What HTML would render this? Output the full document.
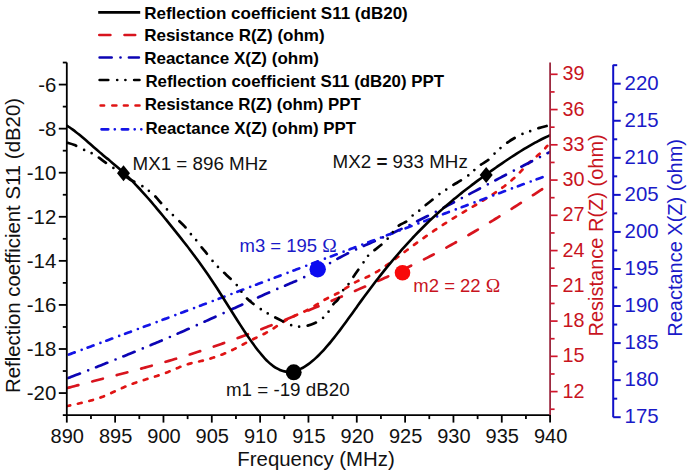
<!DOCTYPE html>
<html><head><meta charset="utf-8"><title>chart</title>
<style>html,body{margin:0;padding:0;background:#fff;}svg{display:block;}text{font-family:"Liberation Sans",sans-serif;}</style></head><body>
<svg width="694" height="476" viewBox="0 0 694 476">
<rect width="694" height="476" fill="#fff"/>
<path d="M98.20,12.40 H140.20" stroke="#000" stroke-width="2.7" stroke-linecap="butt" fill="none"/>
<text x="144.2" y="18.6" font-size="17" font-weight="bold" fill="#000">Reflection coefficient S11 (dB20)</text>
<path d="M99.35,35.00 H110.35 M124.55,35.00 H135.15" stroke="#d8141e" stroke-width="2.7" stroke-linecap="round" fill="none"/>
<text x="144.2" y="40.9" font-size="17" font-weight="bold" fill="#000">Resistance R(Z) (ohm)</text>
<path d="M99.65,57.50 H111.65 M120.50,57.50 h0.01 M128.95,57.50 H138.85" stroke="#0c04b4" stroke-width="2.7" stroke-linecap="round" fill="none"/>
<text x="144.2" y="63.6" font-size="17" font-weight="bold" fill="#000">Reactance X(Z) (ohm)</text>
<path d="M99.65,80.00 H108.25 M117.20,80.00 h0.01 M125.40,80.00 h0.01 M134.15,80.00 H139.45" stroke="#000" stroke-width="2.7" stroke-linecap="round" fill="none"/>
<text x="145.4" y="87.4" font-size="16.85" font-weight="bold" fill="#000">Reflection coefficient S11 (dB20) PPT</text>
<path d="M100.65,105.50 H104.05 M112.35,105.50 H116.35 M123.95,105.50 H127.65 M135.55,105.50 H139.45" stroke="#e01414" stroke-width="2.7" stroke-linecap="round" fill="none"/>
<text x="144.7" y="110.3" font-size="16.85" font-weight="bold" fill="#000">Resistance R(Z) (ohm) PPT</text>
<path d="M101.55,129.30 H108.25 M114.80,129.30 h0.01 M121.85,129.30 H128.15 M134.70,129.30 h0.01 M141.30,129.30 h0.01" stroke="#1414e6" stroke-width="2.7" stroke-linecap="round" fill="none"/>
<text x="145.4" y="134.2" font-size="16.85" font-weight="bold" fill="#000">Reactance X(Z) (ohm) PPT</text>
<defs><clipPath id="pc"><rect x="66.5" y="0" width="483.9" height="415.1"/></clipPath></defs>
<g clip-path="url(#pc)">
<path d="M66.80,388.18 C67.30,388.04 68.80,387.64 69.80,387.37 C70.80,387.10 71.80,386.84 72.80,386.57 C73.80,386.30 74.80,386.04 75.81,385.77 C76.81,385.51 77.81,385.24 78.81,384.98 C79.81,384.71 80.81,384.45 81.81,384.19 C82.81,383.92 83.81,383.66 84.81,383.40 C85.81,383.14 86.81,382.87 87.81,382.61 C88.81,382.35 89.81,382.09 90.81,381.83 C91.82,381.57 92.82,381.31 93.82,381.05 C94.82,380.79 95.82,380.53 96.82,380.27 C97.82,380.01 98.82,379.75 99.82,379.49 C100.82,379.23 101.82,378.97 102.82,378.71 C103.82,378.45 104.82,378.19 105.82,377.93 C106.82,377.67 107.83,377.41 108.83,377.15 C109.83,376.89 110.83,376.63 111.83,376.37 C112.83,376.11 113.83,375.84 114.83,375.58 C115.83,375.32 116.83,375.06 117.83,374.80 C118.83,374.54 119.83,374.28 120.83,374.01 C121.83,373.75 122.83,373.49 123.84,373.23 C124.84,372.96 125.84,372.70 126.84,372.44 C127.84,372.17 128.84,371.91 129.84,371.64 C130.84,371.38 131.84,371.11 132.84,370.84 C133.84,370.58 134.84,370.31 135.84,370.04 C136.84,369.77 137.84,369.50 138.84,369.23 C139.85,368.97 140.85,368.69 141.85,368.42 C142.85,368.15 143.85,367.88 144.85,367.61 C145.85,367.33 146.85,367.06 147.85,366.79 C148.85,366.51 149.85,366.23 150.85,365.96 C151.85,365.68 152.85,365.40 153.85,365.12 C154.85,364.84 155.86,364.56 156.86,364.28 C157.86,364.00 158.86,363.72 159.86,363.43 C160.86,363.15 161.86,362.86 162.86,362.58 C163.86,362.29 164.86,362.00 165.86,361.71 C166.86,361.42 167.86,361.13 168.86,360.84 C169.86,360.55 170.86,360.25 171.87,359.96 C172.87,359.66 173.87,359.36 174.87,359.07 C175.87,358.77 176.87,358.47 177.87,358.17 C178.87,357.86 179.87,357.56 180.87,357.25 C181.87,356.95 182.87,356.64 183.87,356.33 C184.87,356.02 185.87,355.71 186.87,355.40 C187.88,355.09 188.88,354.77 189.88,354.46 C190.88,354.14 191.88,353.82 192.88,353.50 C193.88,353.18 194.88,352.86 195.88,352.54 C196.88,352.21 197.88,351.89 198.88,351.56 C199.88,351.23 200.88,350.90 201.88,350.57 C202.88,350.24 203.89,349.91 204.89,349.57 C205.89,349.24 206.89,348.90 207.89,348.57 C208.89,348.23 209.89,347.89 210.89,347.55 C211.89,347.21 212.89,346.86 213.89,346.52 C214.89,346.17 215.89,345.83 216.89,345.48 C217.89,345.13 218.89,344.78 219.90,344.43 C220.90,344.08 221.90,343.73 222.90,343.38 C223.90,343.02 224.90,342.67 225.90,342.31 C226.90,341.96 227.90,341.60 228.90,341.24 C229.90,340.88 230.90,340.52 231.90,340.15 C232.90,339.79 233.90,339.43 234.90,339.06 C235.90,338.70 236.91,338.33 237.91,337.97 C238.91,337.60 239.91,337.23 240.91,336.86 C241.91,336.49 242.91,336.12 243.91,335.74 C244.91,335.37 245.91,335.00 246.91,334.62 C247.91,334.25 248.91,333.87 249.91,333.49 C250.91,333.12 251.91,332.74 252.92,332.36 C253.92,331.98 254.92,331.60 255.92,331.22 C256.92,330.84 257.92,330.45 258.92,330.07 C259.92,329.68 260.92,329.30 261.92,328.91 C262.92,328.53 263.92,328.14 264.92,327.75 C265.92,327.36 266.92,326.98 267.92,326.59 C268.93,326.20 269.93,325.81 270.93,325.41 C271.93,325.02 272.93,324.63 273.93,324.24 C274.93,323.84 275.93,323.45 276.93,323.05 C277.93,322.66 278.93,322.26 279.93,321.87 C280.93,321.47 281.93,321.07 282.93,320.68 C283.93,320.28 284.94,319.88 285.94,319.48 C286.94,319.08 287.94,318.68 288.94,318.28 C289.94,317.88 290.94,317.48 291.94,317.07 C292.94,316.67 293.94,316.27 294.94,315.87 C295.94,315.46 296.94,315.06 297.94,314.65 C298.94,314.25 299.94,313.84 300.95,313.44 C301.95,313.03 302.95,312.62 303.95,312.22 C304.95,311.81 305.95,311.40 306.95,310.99 C307.95,310.58 308.95,310.17 309.95,309.76 C310.95,309.35 311.95,308.94 312.95,308.53 C313.95,308.12 314.95,307.71 315.95,307.29 C316.96,306.88 317.96,306.47 318.96,306.05 C319.96,305.64 320.96,305.22 321.96,304.81 C322.96,304.39 323.96,303.98 324.96,303.56 C325.96,303.14 326.96,302.73 327.96,302.31 C328.96,301.89 329.96,301.47 330.96,301.06 C331.96,300.64 332.97,300.22 333.97,299.80 C334.97,299.38 335.97,298.96 336.97,298.54 C337.97,298.12 338.97,297.69 339.97,297.27 C340.97,296.85 341.97,296.43 342.97,296.00 C343.97,295.58 344.97,295.16 345.97,294.73 C346.97,294.31 347.97,293.88 348.98,293.46 C349.98,293.03 350.98,292.61 351.98,292.18 C352.98,291.75 353.98,291.33 354.98,290.90 C355.98,290.47 356.98,290.05 357.98,289.62 C358.98,289.19 359.98,288.76 360.98,288.33 C361.98,287.90 362.98,287.47 363.98,287.04 C364.99,286.61 365.99,286.17 366.99,285.74 C367.99,285.31 368.99,284.87 369.99,284.44 C370.99,284.00 371.99,283.57 372.99,283.13 C373.99,282.69 374.99,282.26 375.99,281.82 C376.99,281.38 377.99,280.94 378.99,280.49 C379.99,280.05 381.00,279.61 382.00,279.16 C383.00,278.72 384.00,278.27 385.00,277.83 C386.00,277.38 387.00,276.93 388.00,276.48 C389.00,276.03 390.00,275.57 391.00,275.12 C392.00,274.67 393.00,274.21 394.00,273.75 C395.00,273.29 396.00,272.83 397.00,272.37 C398.01,271.91 399.01,271.45 400.01,270.98 C401.01,270.52 402.01,270.05 403.01,269.58 C404.01,269.11 405.01,268.64 406.01,268.16 C407.01,267.69 408.01,267.21 409.01,266.73 C410.01,266.26 411.01,265.77 412.01,265.29 C413.01,264.81 414.02,264.32 415.02,263.83 C416.02,263.34 417.02,262.85 418.02,262.36 C419.02,261.87 420.02,261.37 421.02,260.87 C422.02,260.37 423.02,259.87 424.02,259.36 C425.02,258.86 426.02,258.35 427.02,257.84 C428.02,257.33 429.02,256.82 430.03,256.30 C431.03,255.78 432.03,255.26 433.03,254.74 C434.03,254.22 435.03,253.69 436.03,253.16 C437.03,252.63 438.03,252.10 439.03,251.57 C440.03,251.03 441.03,250.50 442.03,249.96 C443.03,249.42 444.03,248.87 445.03,248.33 C446.04,247.78 447.04,247.23 448.04,246.68 C449.04,246.13 450.04,245.58 451.04,245.02 C452.04,244.47 453.04,243.91 454.04,243.35 C455.04,242.79 456.04,242.22 457.04,241.66 C458.04,241.09 459.04,240.52 460.04,239.95 C461.04,239.38 462.05,238.81 463.05,238.23 C464.05,237.65 465.05,237.08 466.05,236.50 C467.05,235.92 468.05,235.33 469.05,234.75 C470.05,234.17 471.05,233.58 472.05,232.99 C473.05,232.40 474.05,231.81 475.05,231.22 C476.05,230.63 477.05,230.03 478.06,229.43 C479.06,228.84 480.06,228.24 481.06,227.64 C482.06,227.04 483.06,226.43 484.06,225.83 C485.06,225.23 486.06,224.62 487.06,224.01 C488.06,223.41 489.06,222.80 490.06,222.18 C491.06,221.57 492.06,220.96 493.06,220.35 C494.07,219.73 495.07,219.12 496.07,218.50 C497.07,217.88 498.07,217.26 499.07,216.64 C500.07,216.02 501.07,215.40 502.07,214.78 C503.07,214.15 504.07,213.53 505.07,212.90 C506.07,212.28 507.07,211.65 508.07,211.02 C509.07,210.39 510.08,209.76 511.08,209.13 C512.08,208.50 513.08,207.87 514.08,207.24 C515.08,206.60 516.08,205.97 517.08,205.34 C518.08,204.70 519.08,204.06 520.08,203.43 C521.08,202.79 522.08,202.15 523.08,201.51 C524.08,200.87 525.08,200.23 526.09,199.59 C527.09,198.95 528.09,198.31 529.09,197.67 C530.09,197.03 531.09,196.38 532.09,195.74 C533.09,195.10 534.09,194.45 535.09,193.81 C536.09,193.16 537.09,192.52 538.09,191.87 C539.09,191.23 540.09,190.58 541.09,189.93 C542.10,189.29 543.10,188.64 544.10,187.99 C545.10,187.34 546.10,186.70 547.10,186.05 C548.10,185.40 549.60,184.43 550.10,184.10" fill="none" stroke="#d8141e" stroke-width="2.7" stroke-linecap="round" stroke-dasharray="10.93 14.37" stroke-dashoffset="24.27"/>
<path d="M66.80,406.23 C67.13,406.16 68.13,405.92 68.80,405.76 C69.47,405.60 70.14,405.45 70.80,405.30 C71.47,405.14 72.14,404.99 72.81,404.84 C73.47,404.69 74.14,404.54 74.81,404.39 C75.48,404.24 76.14,404.09 76.81,403.94 C77.48,403.80 78.15,403.65 78.81,403.49 C79.48,403.34 80.15,403.19 80.81,403.04 C81.48,402.88 82.15,402.73 82.82,402.57 C83.48,402.42 84.15,402.26 84.82,402.09 C85.49,401.93 86.15,401.77 86.82,401.60 C87.49,401.43 88.16,401.26 88.82,401.09 C89.49,400.91 90.16,400.73 90.82,400.55 C91.49,400.36 92.16,400.18 92.83,399.98 C93.49,399.79 94.16,399.59 94.83,399.39 C95.50,399.19 96.16,398.98 96.83,398.76 C97.50,398.55 98.17,398.32 98.83,398.10 C99.50,397.87 100.17,397.63 100.84,397.39 C101.50,397.15 102.17,396.90 102.84,396.64 C103.50,396.38 104.17,396.11 104.84,395.84 C105.51,395.57 106.17,395.28 106.84,395.00 C107.51,394.71 108.18,394.42 108.84,394.12 C109.51,393.83 110.18,393.53 110.85,393.22 C111.51,392.92 112.18,392.61 112.85,392.30 C113.52,391.99 114.18,391.68 114.85,391.37 C115.52,391.06 116.18,390.75 116.85,390.44 C117.52,390.13 118.19,389.81 118.85,389.51 C119.52,389.20 120.19,388.89 120.86,388.59 C121.52,388.28 122.19,387.98 122.86,387.69 C123.53,387.39 124.19,387.10 124.86,386.82 C125.53,386.53 126.20,386.25 126.86,385.98 C127.53,385.70 128.20,385.43 128.86,385.17 C129.53,384.91 130.20,384.65 130.87,384.39 C131.53,384.14 132.20,383.89 132.87,383.65 C133.54,383.40 134.20,383.16 134.87,382.93 C135.54,382.69 136.21,382.46 136.87,382.24 C137.54,382.01 138.21,381.79 138.88,381.57 C139.54,381.35 140.21,381.13 140.88,380.92 C141.54,380.71 142.21,380.50 142.88,380.29 C143.55,380.08 144.21,379.87 144.88,379.67 C145.55,379.46 146.22,379.26 146.88,379.05 C147.55,378.85 148.22,378.64 148.89,378.44 C149.55,378.24 150.22,378.03 150.89,377.83 C151.55,377.62 152.22,377.42 152.89,377.21 C153.56,377.00 154.22,376.80 154.89,376.59 C155.56,376.37 156.23,376.16 156.89,375.95 C157.56,375.73 158.23,375.51 158.90,375.29 C159.56,375.07 160.23,374.84 160.90,374.61 C161.57,374.38 162.23,374.15 162.90,373.91 C163.57,373.67 164.23,373.43 164.90,373.18 C165.57,372.93 166.24,372.68 166.90,372.42 C167.57,372.16 168.24,371.89 168.91,371.62 C169.57,371.35 170.24,371.07 170.91,370.79 C171.58,370.50 172.24,370.22 172.91,369.93 C173.58,369.65 174.25,369.36 174.91,369.07 C175.58,368.79 176.25,368.50 176.91,368.22 C177.58,367.93 178.25,367.65 178.92,367.38 C179.58,367.10 180.25,366.83 180.92,366.57 C181.59,366.30 182.25,366.04 182.92,365.80 C183.59,365.55 184.26,365.31 184.92,365.08 C185.59,364.85 186.26,364.63 186.93,364.43 C187.59,364.22 188.26,364.03 188.93,363.85 C189.59,363.66 190.26,363.49 190.93,363.33 C191.60,363.16 192.26,363.00 192.93,362.85 C193.60,362.69 194.27,362.54 194.93,362.40 C195.60,362.25 196.27,362.10 196.94,361.96 C197.60,361.81 198.27,361.66 198.94,361.51 C199.60,361.36 200.27,361.21 200.94,361.05 C201.61,360.89 202.27,360.73 202.94,360.56 C203.61,360.40 204.28,360.23 204.94,360.05 C205.61,359.87 206.28,359.69 206.95,359.51 C207.61,359.33 208.28,359.14 208.95,358.94 C209.62,358.75 210.28,358.55 210.95,358.35 C211.62,358.15 212.28,357.94 212.95,357.72 C213.62,357.51 214.29,357.29 214.95,357.07 C215.62,356.85 216.29,356.62 216.96,356.38 C217.62,356.15 218.29,355.91 218.96,355.67 C219.63,355.42 220.29,355.17 220.96,354.92 C221.63,354.66 222.30,354.40 222.96,354.13 C223.63,353.87 224.30,353.60 224.96,353.32 C225.63,353.04 226.30,352.75 226.97,352.46 C227.63,352.17 228.30,351.88 228.97,351.58 C229.64,351.27 230.30,350.96 230.97,350.65 C231.64,350.33 232.31,350.01 232.97,349.68 C233.64,349.36 234.31,349.02 234.97,348.69 C235.64,348.35 236.31,348.01 236.98,347.66 C237.64,347.32 238.31,346.97 238.98,346.61 C239.65,346.26 240.31,345.91 240.98,345.56 C241.65,345.20 242.32,344.84 242.98,344.49 C243.65,344.13 244.32,343.78 244.99,343.42 C245.65,343.07 246.32,342.72 246.99,342.36 C247.65,342.01 248.32,341.66 248.99,341.32 C249.66,340.98 250.32,340.63 250.99,340.30 C251.66,339.96 252.33,339.63 252.99,339.30 C253.66,338.98 254.33,338.66 255.00,338.34 C255.66,338.02 256.33,337.70 257.00,337.39 C257.67,337.07 258.33,336.76 259.00,336.44 C259.67,336.12 260.33,335.80 261.00,335.48 C261.67,335.15 262.34,334.82 263.00,334.48 C263.67,334.14 264.34,333.80 265.01,333.44 C265.67,333.08 266.34,332.72 267.01,332.34 C267.68,331.96 268.34,331.56 269.01,331.16 C269.68,330.76 270.35,330.35 271.01,329.93 C271.68,329.51 272.35,329.08 273.01,328.65 C273.68,328.22 274.35,327.79 275.02,327.35 C275.68,326.91 276.35,326.47 277.02,326.02 C277.69,325.58 278.35,325.14 279.02,324.70 C279.69,324.26 280.36,323.82 281.02,323.39 C281.69,322.95 282.36,322.52 283.02,322.10 C283.69,321.67 284.36,321.25 285.03,320.85 C285.69,320.44 286.36,320.04 287.03,319.65 C287.70,319.26 288.36,318.88 289.03,318.52 C289.70,318.16 290.37,317.81 291.03,317.47 C291.70,317.13 292.37,316.81 293.04,316.49 C293.70,316.18 294.37,315.88 295.04,315.58 C295.70,315.28 296.37,314.99 297.04,314.70 C297.71,314.41 298.37,314.13 299.04,313.84 C299.71,313.55 300.38,313.27 301.04,312.98 C301.71,312.68 302.38,312.39 303.05,312.09 C303.71,311.79 304.38,311.49 305.05,311.17 C305.72,310.85 306.38,310.52 307.05,310.18 C307.72,309.84 308.38,309.49 309.05,309.12 C309.72,308.75 310.39,308.37 311.05,307.98 C311.72,307.59 312.39,307.19 313.06,306.78 C313.72,306.38 314.39,305.96 315.06,305.55 C315.73,305.14 316.39,304.72 317.06,304.30 C317.73,303.88 318.40,303.46 319.06,303.05 C319.73,302.64 320.40,302.23 321.06,301.83 C321.73,301.42 322.40,301.03 323.07,300.64 C323.73,300.26 324.40,299.88 325.07,299.52 C325.74,299.16 326.40,298.81 327.07,298.47 C327.74,298.13 328.41,297.80 329.07,297.48 C329.74,297.15 330.41,296.83 331.07,296.51 C331.74,296.18 332.41,295.87 333.08,295.54 C333.74,295.22 334.41,294.89 335.08,294.56 C335.75,294.23 336.41,293.89 337.08,293.54 C337.75,293.18 338.42,292.83 339.08,292.45 C339.75,292.07 340.42,291.68 341.09,291.28 C341.75,290.87 342.42,290.45 343.09,290.02 C343.75,289.59 344.42,289.15 345.09,288.71 C345.76,288.27 346.42,287.83 347.09,287.38 C347.76,286.94 348.43,286.49 349.09,286.06 C349.76,285.62 350.43,285.19 351.10,284.77 C351.76,284.35 352.43,283.94 353.10,283.54 C353.77,283.15 354.43,282.77 355.10,282.41 C355.77,282.05 356.43,281.72 357.10,281.39 C357.77,281.06 358.44,280.76 359.10,280.46 C359.77,280.16 360.44,279.87 361.11,279.58 C361.77,279.30 362.44,279.02 363.11,278.74 C363.78,278.45 364.44,278.17 365.11,277.88 C365.78,277.59 366.45,277.30 367.11,276.99 C367.78,276.68 368.45,276.37 369.11,276.03 C369.78,275.70 370.45,275.36 371.12,275.01 C371.78,274.65 372.45,274.29 373.12,273.91 C373.79,273.54 374.45,273.15 375.12,272.76 C375.79,272.37 376.46,271.96 377.12,271.55 C377.79,271.14 378.46,270.72 379.12,270.30 C379.79,269.87 380.46,269.44 381.13,269.00 C381.79,268.56 382.46,268.11 383.13,267.66 C383.80,267.21 384.46,266.75 385.13,266.28 C385.80,265.82 386.47,265.35 387.13,264.88 C387.80,264.41 388.47,263.93 389.14,263.45 C389.80,262.96 390.47,262.48 391.14,261.99 C391.80,261.50 392.47,261.01 393.14,260.51 C393.81,260.02 394.47,259.52 395.14,259.02 C395.81,258.52 396.48,258.02 397.14,257.52 C397.81,257.01 398.48,256.51 399.15,256.00 C399.81,255.50 400.48,254.99 401.15,254.49 C401.82,253.98 402.48,253.48 403.15,252.97 C403.82,252.47 404.48,251.97 405.15,251.46 C405.82,250.96 406.49,250.46 407.15,249.96 C407.82,249.46 408.49,248.96 409.16,248.47 C409.82,247.97 410.49,247.48 411.16,246.98 C411.83,246.49 412.49,246.00 413.16,245.51 C413.83,245.02 414.50,244.53 415.16,244.04 C415.83,243.56 416.50,243.07 417.16,242.59 C417.83,242.11 418.50,241.62 419.17,241.14 C419.83,240.66 420.50,240.19 421.17,239.71 C421.84,239.23 422.50,238.76 423.17,238.29 C423.84,237.81 424.51,237.34 425.17,236.87 C425.84,236.40 426.51,235.94 427.18,235.47 C427.84,235.00 428.51,234.54 429.18,234.08 C429.84,233.62 430.51,233.16 431.18,232.70 C431.85,232.24 432.51,231.78 433.18,231.33 C433.85,230.88 434.52,230.42 435.18,229.97 C435.85,229.52 436.52,229.08 437.19,228.63 C437.85,228.18 438.52,227.74 439.19,227.30 C439.85,226.86 440.52,226.42 441.19,225.98 C441.86,225.54 442.52,225.11 443.19,224.67 C443.86,224.24 444.53,223.81 445.19,223.38 C445.86,222.95 446.53,222.52 447.20,222.10 C447.86,221.67 448.53,221.25 449.20,220.83 C449.87,220.41 450.53,219.99 451.20,219.58 C451.87,219.16 452.53,218.75 453.20,218.34 C453.87,217.93 454.54,217.52 455.20,217.11 C455.87,216.71 456.54,216.30 457.21,215.90 C457.87,215.50 458.54,215.10 459.21,214.70 C459.88,214.30 460.54,213.91 461.21,213.51 C461.88,213.12 462.55,212.72 463.21,212.33 C463.88,211.94 464.55,211.55 465.21,211.15 C465.88,210.76 466.55,210.37 467.22,209.98 C467.88,209.59 468.55,209.20 469.22,208.81 C469.89,208.42 470.55,208.03 471.22,207.63 C471.89,207.24 472.56,206.85 473.22,206.46 C473.89,206.07 474.56,205.67 475.22,205.28 C475.89,204.88 476.56,204.49 477.23,204.09 C477.89,203.69 478.56,203.29 479.23,202.89 C479.90,202.49 480.56,202.09 481.23,201.68 C481.90,201.27 482.57,200.87 483.23,200.46 C483.90,200.05 484.57,199.63 485.24,199.22 C485.90,198.80 486.57,198.38 487.24,197.96 C487.90,197.54 488.57,197.11 489.24,196.68 C489.91,196.25 490.57,195.82 491.24,195.38 C491.91,194.94 492.58,194.50 493.24,194.06 C493.91,193.61 494.58,193.16 495.25,192.71 C495.91,192.25 496.58,191.79 497.25,191.33 C497.92,190.86 498.58,190.39 499.25,189.92 C499.92,189.44 500.58,188.96 501.25,188.47 C501.92,187.98 502.59,187.49 503.25,186.99 C503.92,186.49 504.59,185.99 505.26,185.47 C505.92,184.96 506.59,184.44 507.26,183.91 C507.93,183.38 508.59,182.84 509.26,182.29 C509.93,181.73 510.60,181.17 511.26,180.60 C511.93,180.03 512.60,179.44 513.26,178.84 C513.93,178.24 514.60,177.63 515.27,177.00 C515.93,176.37 516.60,175.73 517.27,175.07 C517.94,174.41 518.60,173.74 519.27,173.05 C519.94,172.35 520.61,171.64 521.27,170.92 C521.94,170.20 522.61,169.45 523.27,168.72 C523.94,167.99 524.61,167.25 525.28,166.54 C525.94,165.83 526.61,165.12 527.28,164.45 C527.95,163.77 528.61,163.13 529.28,162.51 C529.95,161.90 530.62,161.31 531.28,160.73 C531.95,160.16 532.62,159.61 533.29,159.05 C533.95,158.50 534.62,157.97 535.29,157.43 C535.95,156.88 536.62,156.35 537.29,155.79 C537.96,155.24 538.62,154.69 539.29,154.11 C539.96,153.53 540.63,152.94 541.29,152.32 C541.96,151.70 542.63,151.06 543.30,150.38 C543.96,149.70 544.63,148.99 545.30,148.23 C545.97,147.47 546.97,146.22 547.30,145.82" fill="none" stroke="#e01414" stroke-width="2.7" stroke-linecap="round" stroke-dasharray="3.8 7.896" stroke-dashoffset="0.30"/>
<path d="M66.80,378.58 C67.30,378.38 68.80,377.81 69.80,377.42 C70.80,377.03 71.80,376.65 72.80,376.26 C73.80,375.87 74.80,375.48 75.81,375.10 C76.81,374.71 77.81,374.32 78.81,373.93 C79.81,373.54 80.81,373.16 81.81,372.77 C82.81,372.38 83.81,371.99 84.81,371.60 C85.81,371.21 86.81,370.82 87.81,370.43 C88.81,370.04 89.81,369.65 90.81,369.26 C91.82,368.87 92.82,368.48 93.82,368.09 C94.82,367.69 95.82,367.30 96.82,366.91 C97.82,366.52 98.82,366.12 99.82,365.73 C100.82,365.34 101.82,364.94 102.82,364.55 C103.82,364.15 104.82,363.76 105.82,363.36 C106.82,362.97 107.83,362.57 108.83,362.17 C109.83,361.78 110.83,361.38 111.83,360.98 C112.83,360.58 113.83,360.18 114.83,359.79 C115.83,359.39 116.83,358.99 117.83,358.59 C118.83,358.19 119.83,357.78 120.83,357.38 C121.83,356.98 122.83,356.58 123.84,356.17 C124.84,355.77 125.84,355.37 126.84,354.96 C127.84,354.56 128.84,354.15 129.84,353.75 C130.84,353.34 131.84,352.93 132.84,352.53 C133.84,352.12 134.84,351.71 135.84,351.30 C136.84,350.89 137.84,350.48 138.84,350.07 C139.85,349.66 140.85,349.25 141.85,348.83 C142.85,348.42 143.85,348.01 144.85,347.59 C145.85,347.18 146.85,346.76 147.85,346.34 C148.85,345.93 149.85,345.51 150.85,345.09 C151.85,344.67 152.85,344.25 153.85,343.83 C154.85,343.41 155.86,342.99 156.86,342.57 C157.86,342.15 158.86,341.72 159.86,341.30 C160.86,340.87 161.86,340.45 162.86,340.02 C163.86,339.60 164.86,339.17 165.86,338.74 C166.86,338.31 167.86,337.88 168.86,337.45 C169.86,337.02 170.86,336.59 171.87,336.15 C172.87,335.72 173.87,335.29 174.87,334.85 C175.87,334.41 176.87,333.98 177.87,333.54 C178.87,333.10 179.87,332.67 180.87,332.23 C181.87,331.79 182.87,331.35 183.87,330.91 C184.87,330.47 185.87,330.02 186.87,329.58 C187.88,329.14 188.88,328.69 189.88,328.25 C190.88,327.81 191.88,327.36 192.88,326.92 C193.88,326.47 194.88,326.02 195.88,325.58 C196.88,325.13 197.88,324.68 198.88,324.23 C199.88,323.78 200.88,323.34 201.88,322.89 C202.88,322.44 203.89,321.99 204.89,321.54 C205.89,321.09 206.89,320.63 207.89,320.18 C208.89,319.73 209.89,319.28 210.89,318.83 C211.89,318.37 212.89,317.92 213.89,317.47 C214.89,317.01 215.89,316.56 216.89,316.11 C217.89,315.65 218.89,315.20 219.90,314.74 C220.90,314.29 221.90,313.83 222.90,313.38 C223.90,312.92 224.90,312.47 225.90,312.01 C226.90,311.56 227.90,311.10 228.90,310.65 C229.90,310.19 230.90,309.73 231.90,309.28 C232.90,308.82 233.90,308.37 234.90,307.91 C235.90,307.45 236.91,307.00 237.91,306.54 C238.91,306.09 239.91,305.63 240.91,305.17 C241.91,304.72 242.91,304.26 243.91,303.81 C244.91,303.35 245.91,302.90 246.91,302.44 C247.91,301.99 248.91,301.54 249.91,301.08 C250.91,300.63 251.91,300.18 252.92,299.73 C253.92,299.27 254.92,298.82 255.92,298.37 C256.92,297.92 257.92,297.47 258.92,297.03 C259.92,296.58 260.92,296.13 261.92,295.69 C262.92,295.24 263.92,294.80 264.92,294.35 C265.92,293.91 266.92,293.47 267.92,293.03 C268.93,292.59 269.93,292.15 270.93,291.71 C271.93,291.27 272.93,290.84 273.93,290.40 C274.93,289.97 275.93,289.54 276.93,289.11 C277.93,288.68 278.93,288.25 279.93,287.82 C280.93,287.39 281.93,286.97 282.93,286.55 C283.93,286.12 284.94,285.70 285.94,285.27 C286.94,284.85 287.94,284.43 288.94,284.00 C289.94,283.57 290.94,283.15 291.94,282.72 C292.94,282.28 293.94,281.85 294.94,281.41 C295.94,280.97 296.94,280.53 297.94,280.08 C298.94,279.63 299.94,279.18 300.95,278.72 C301.95,278.26 302.95,277.79 303.95,277.31 C304.95,276.83 305.95,276.35 306.95,275.85 C307.95,275.36 308.95,274.86 309.95,274.34 C310.95,273.83 311.95,273.30 312.95,272.77 C313.95,272.23 314.95,271.69 315.95,271.14 C316.96,270.59 317.96,270.03 318.96,269.47 C319.96,268.90 320.96,268.33 321.96,267.76 C322.96,267.19 323.96,266.62 324.96,266.04 C325.96,265.46 326.96,264.88 327.96,264.31 C328.96,263.73 329.96,263.15 330.96,262.58 C331.96,262.00 332.97,261.43 333.97,260.86 C334.97,260.29 335.97,259.73 336.97,259.17 C337.97,258.61 338.97,258.05 339.97,257.51 C340.97,256.97 341.97,256.43 342.97,255.90 C343.97,255.37 344.97,254.85 345.97,254.34 C346.97,253.83 347.97,253.33 348.98,252.83 C349.98,252.33 350.98,251.84 351.98,251.36 C352.98,250.88 353.98,250.40 354.98,249.93 C355.98,249.46 356.98,248.99 357.98,248.53 C358.98,248.07 359.98,247.61 360.98,247.16 C361.98,246.70 362.98,246.25 363.98,245.81 C364.99,245.36 365.99,244.92 366.99,244.47 C367.99,244.03 368.99,243.59 369.99,243.15 C370.99,242.71 371.99,242.27 372.99,241.84 C373.99,241.40 374.99,240.96 375.99,240.52 C376.99,240.08 377.99,239.65 378.99,239.21 C379.99,238.77 381.00,238.32 382.00,237.88 C383.00,237.44 384.00,236.99 385.00,236.54 C386.00,236.09 387.00,235.64 388.00,235.18 C389.00,234.73 390.00,234.27 391.00,233.81 C392.00,233.35 393.00,232.89 394.00,232.42 C395.00,231.96 396.00,231.49 397.00,231.02 C398.01,230.55 399.01,230.08 400.01,229.60 C401.01,229.13 402.01,228.65 403.01,228.17 C404.01,227.69 405.01,227.21 406.01,226.72 C407.01,226.24 408.01,225.75 409.01,225.26 C410.01,224.78 411.01,224.28 412.01,223.79 C413.01,223.30 414.02,222.81 415.02,222.31 C416.02,221.81 417.02,221.31 418.02,220.81 C419.02,220.32 420.02,219.81 421.02,219.31 C422.02,218.81 423.02,218.30 424.02,217.80 C425.02,217.29 426.02,216.78 427.02,216.27 C428.02,215.76 429.02,215.25 430.03,214.74 C431.03,214.23 432.03,213.71 433.03,213.20 C434.03,212.68 435.03,212.17 436.03,211.65 C437.03,211.13 438.03,210.61 439.03,210.09 C440.03,209.57 441.03,209.05 442.03,208.53 C443.03,208.01 444.03,207.48 445.03,206.96 C446.04,206.44 447.04,205.91 448.04,205.39 C449.04,204.86 450.04,204.34 451.04,203.81 C452.04,203.28 453.04,202.75 454.04,202.23 C455.04,201.70 456.04,201.17 457.04,200.64 C458.04,200.11 459.04,199.58 460.04,199.05 C461.04,198.52 462.05,197.99 463.05,197.46 C464.05,196.93 465.05,196.40 466.05,195.86 C467.05,195.33 468.05,194.80 469.05,194.27 C470.05,193.74 471.05,193.21 472.05,192.67 C473.05,192.14 474.05,191.61 475.05,191.08 C476.05,190.55 477.05,190.02 478.06,189.48 C479.06,188.95 480.06,188.42 481.06,187.89 C482.06,187.36 483.06,186.83 484.06,186.30 C485.06,185.77 486.06,185.24 487.06,184.71 C488.06,184.18 489.06,183.65 490.06,183.12 C491.06,182.59 492.06,182.06 493.06,181.53 C494.07,181.01 495.07,180.48 496.07,179.95 C497.07,179.43 498.07,178.90 499.07,178.37 C500.07,177.85 501.07,177.32 502.07,176.80 C503.07,176.27 504.07,175.75 505.07,175.22 C506.07,174.70 507.07,174.17 508.07,173.65 C509.07,173.13 510.08,172.60 511.08,172.08 C512.08,171.56 513.08,171.04 514.08,170.51 C515.08,169.99 516.08,169.47 517.08,168.95 C518.08,168.43 519.08,167.91 520.08,167.39 C521.08,166.87 522.08,166.35 523.08,165.83 C524.08,165.31 525.08,164.79 526.09,164.27 C527.09,163.75 528.09,163.23 529.09,162.72 C530.09,162.20 531.09,161.68 532.09,161.16 C533.09,160.65 534.09,160.13 535.09,159.61 C536.09,159.10 537.09,158.58 538.09,158.07 C539.09,157.55 540.09,157.03 541.09,156.52 C542.10,156.00 543.10,155.49 544.10,154.98 C545.10,154.46 546.10,153.95 547.10,153.43 C548.10,152.92 549.60,152.15 550.10,151.90" fill="none" stroke="#0c04b4" stroke-width="2.7" stroke-linecap="round" stroke-dasharray="12.02 8.93 0 8.46" stroke-dashoffset="27.42"/>
<path d="M66.80,355.27 C67.30,355.08 68.81,354.53 69.82,354.16 C70.82,353.79 71.83,353.43 72.83,353.06 C73.84,352.69 74.85,352.32 75.85,351.95 C76.86,351.58 77.86,351.21 78.87,350.84 C79.87,350.47 80.88,350.10 81.89,349.73 C82.89,349.36 83.90,348.99 84.90,348.62 C85.91,348.25 86.91,347.88 87.92,347.51 C88.93,347.14 89.93,346.77 90.94,346.40 C91.94,346.03 92.95,345.66 93.95,345.29 C94.96,344.92 95.97,344.55 96.97,344.18 C97.98,343.81 98.98,343.44 99.99,343.06 C100.99,342.69 102.00,342.32 103.01,341.95 C104.01,341.58 105.02,341.21 106.02,340.84 C107.03,340.46 108.03,340.09 109.04,339.72 C110.04,339.35 111.05,338.98 112.06,338.60 C113.06,338.23 114.07,337.86 115.07,337.49 C116.08,337.11 117.08,336.74 118.09,336.37 C119.10,336.00 120.10,335.62 121.11,335.25 C122.11,334.88 123.12,334.51 124.12,334.13 C125.13,333.76 126.14,333.39 127.14,333.01 C128.15,332.64 129.15,332.27 130.16,331.89 C131.16,331.52 132.17,331.15 133.18,330.77 C134.18,330.40 135.19,330.02 136.19,329.65 C137.20,329.28 138.20,328.90 139.21,328.53 C140.22,328.15 141.22,327.78 142.23,327.41 C143.23,327.03 144.24,326.66 145.24,326.28 C146.25,325.91 147.26,325.53 148.26,325.16 C149.27,324.78 150.27,324.41 151.28,324.03 C152.28,323.66 153.29,323.28 154.30,322.91 C155.30,322.53 156.31,322.16 157.31,321.78 C158.32,321.41 159.32,321.03 160.33,320.66 C161.34,320.28 162.34,319.91 163.35,319.53 C164.35,319.16 165.36,318.78 166.36,318.40 C167.37,318.03 168.38,317.65 169.38,317.28 C170.39,316.90 171.39,316.52 172.40,316.15 C173.40,315.77 174.41,315.40 175.42,315.02 C176.42,314.64 177.43,314.27 178.43,313.89 C179.44,313.51 180.44,313.14 181.45,312.76 C182.46,312.38 183.46,312.01 184.47,311.63 C185.47,311.25 186.48,310.88 187.48,310.50 C188.49,310.12 189.49,309.75 190.50,309.37 C191.51,308.99 192.51,308.62 193.52,308.24 C194.52,307.86 195.53,307.48 196.53,307.11 C197.54,306.73 198.55,306.35 199.55,305.98 C200.56,305.60 201.56,305.22 202.57,304.84 C203.57,304.47 204.58,304.09 205.59,303.71 C206.59,303.33 207.60,302.95 208.60,302.58 C209.61,302.20 210.61,301.82 211.62,301.44 C212.63,301.07 213.63,300.69 214.64,300.31 C215.64,299.93 216.65,299.55 217.65,299.18 C218.66,298.80 219.67,298.42 220.67,298.04 C221.68,297.66 222.68,297.28 223.69,296.91 C224.69,296.53 225.70,296.15 226.71,295.77 C227.71,295.39 228.72,295.01 229.72,294.63 C230.73,294.26 231.73,293.88 232.74,293.50 C233.75,293.12 234.75,292.74 235.76,292.36 C236.76,291.98 237.77,291.61 238.77,291.23 C239.78,290.85 240.79,290.47 241.79,290.09 C242.80,289.71 243.80,289.33 244.81,288.95 C245.81,288.57 246.82,288.19 247.83,287.82 C248.83,287.44 249.84,287.06 250.84,286.68 C251.85,286.30 252.85,285.92 253.86,285.54 C254.87,285.16 255.87,284.78 256.88,284.40 C257.88,284.02 258.89,283.64 259.89,283.26 C260.90,282.88 261.91,282.51 262.91,282.13 C263.92,281.75 264.92,281.37 265.93,280.99 C266.93,280.61 267.94,280.23 268.94,279.85 C269.95,279.47 270.96,279.09 271.96,278.71 C272.97,278.33 273.97,277.95 274.98,277.57 C275.98,277.19 276.99,276.81 278.00,276.43 C279.00,276.05 280.01,275.67 281.01,275.29 C282.02,274.91 283.02,274.53 284.03,274.15 C285.04,273.77 286.04,273.39 287.05,273.01 C288.05,272.63 289.06,272.25 290.06,271.87 C291.07,271.49 292.08,271.11 293.08,270.73 C294.09,270.35 295.09,269.97 296.10,269.59 C297.10,269.21 298.11,268.83 299.12,268.45 C300.12,268.08 301.13,267.70 302.13,267.32 C303.14,266.94 304.14,266.56 305.15,266.18 C306.16,265.80 307.16,265.42 308.17,265.04 C309.17,264.66 310.18,264.28 311.18,263.90 C312.19,263.51 313.20,263.13 314.20,262.75 C315.21,262.37 316.21,261.99 317.22,261.61 C318.22,261.23 319.23,260.85 320.24,260.47 C321.24,260.09 322.25,259.71 323.25,259.33 C324.26,258.95 325.26,258.57 326.27,258.19 C327.28,257.81 328.28,257.43 329.29,257.05 C330.29,256.67 331.30,256.29 332.30,255.91 C333.31,255.53 334.32,255.15 335.32,254.77 C336.33,254.39 337.33,254.01 338.34,253.63 C339.34,253.25 340.35,252.87 341.36,252.49 C342.36,252.11 343.37,251.73 344.37,251.35 C345.38,250.97 346.38,250.60 347.39,250.22 C348.39,249.84 349.40,249.46 350.41,249.08 C351.41,248.70 352.42,248.32 353.42,247.94 C354.43,247.56 355.43,247.18 356.44,246.80 C357.45,246.42 358.45,246.04 359.46,245.66 C360.46,245.28 361.47,244.90 362.47,244.52 C363.48,244.14 364.49,243.76 365.49,243.38 C366.50,243.00 367.50,242.62 368.51,242.24 C369.51,241.86 370.52,241.48 371.53,241.10 C372.53,240.72 373.54,240.34 374.54,239.96 C375.55,239.58 376.55,239.20 377.56,238.82 C378.57,238.45 379.57,238.07 380.58,237.69 C381.58,237.31 382.59,236.93 383.59,236.55 C384.60,236.17 385.61,235.79 386.61,235.41 C387.62,235.03 388.62,234.65 389.63,234.27 C390.63,233.89 391.64,233.52 392.65,233.14 C393.65,232.76 394.66,232.38 395.66,232.00 C396.67,231.62 397.67,231.24 398.68,230.86 C399.69,230.48 400.69,230.11 401.70,229.73 C402.70,229.35 403.71,228.97 404.71,228.59 C405.72,228.21 406.73,227.83 407.73,227.45 C408.74,227.08 409.74,226.70 410.75,226.32 C411.75,225.94 412.76,225.56 413.77,225.18 C414.77,224.80 415.78,224.43 416.78,224.05 C417.79,223.67 418.79,223.29 419.80,222.91 C420.81,222.54 421.81,222.16 422.82,221.78 C423.82,221.40 424.83,221.02 425.83,220.65 C426.84,220.27 427.84,219.89 428.85,219.51 C429.86,219.13 430.86,218.76 431.87,218.38 C432.87,218.00 433.88,217.62 434.88,217.25 C435.89,216.87 436.90,216.49 437.90,216.11 C438.91,215.74 439.91,215.36 440.92,214.98 C441.92,214.60 442.93,214.23 443.94,213.85 C444.94,213.47 445.95,213.09 446.95,212.72 C447.96,212.34 448.96,211.96 449.97,211.59 C450.98,211.21 451.98,210.83 452.99,210.46 C453.99,210.08 455.00,209.70 456.00,209.33 C457.01,208.95 458.02,208.57 459.02,208.20 C460.03,207.82 461.03,207.44 462.04,207.07 C463.04,206.69 464.05,206.32 465.06,205.94 C466.06,205.56 467.07,205.19 468.07,204.81 C469.08,204.44 470.08,204.06 471.09,203.68 C472.10,203.31 473.10,202.93 474.11,202.56 C475.11,202.18 476.12,201.81 477.12,201.43 C478.13,201.05 479.14,200.68 480.14,200.30 C481.15,199.93 482.15,199.55 483.16,199.18 C484.16,198.80 485.17,198.43 486.18,198.05 C487.18,197.68 488.19,197.30 489.19,196.93 C490.20,196.55 491.20,196.18 492.21,195.80 C493.22,195.43 494.22,195.06 495.23,194.68 C496.23,194.31 497.24,193.93 498.24,193.56 C499.25,193.18 500.26,192.81 501.26,192.44 C502.27,192.06 503.27,191.69 504.28,191.32 C505.28,190.94 506.29,190.57 507.29,190.19 C508.30,189.82 509.31,189.45 510.31,189.07 C511.32,188.70 512.32,188.33 513.33,187.95 C514.33,187.58 515.34,187.21 516.35,186.84 C517.35,186.46 518.36,186.09 519.36,185.72 C520.37,185.34 521.37,184.97 522.38,184.60 C523.39,184.23 524.39,183.85 525.40,183.48 C526.40,183.11 527.41,182.74 528.41,182.37 C529.42,181.99 530.43,181.62 531.43,181.25 C532.44,180.88 533.44,180.51 534.45,180.14 C535.45,179.76 536.46,179.39 537.47,179.02 C538.47,178.65 539.48,178.28 540.48,177.91 C541.49,177.54 543.00,176.98 543.50,176.80" fill="none" stroke="#1414e6" stroke-width="2.7" stroke-linecap="round" stroke-dasharray="6.2 7.45 0 6.33" stroke-dashoffset="17.78"/>
<path d="M66.80,142.60 C68.10,143.02 71.93,143.98 74.60,145.10 C77.27,146.22 80.07,148.00 82.80,149.30 C85.53,150.60 88.58,151.70 91.00,152.90 C93.42,154.10 94.98,154.97 97.30,156.50 C99.62,158.03 102.38,160.32 104.90,162.10 C107.42,163.88 110.38,165.78 112.40,167.20 C114.42,168.62 115.23,169.37 117.00,170.60 C118.77,171.83 120.83,173.12 123.00,174.60 C125.17,176.08 126.95,177.68 130.00,179.50 C133.05,181.32 138.28,183.72 141.30,185.50 C144.32,187.28 145.92,188.53 148.10,190.20 C150.28,191.87 152.23,193.37 154.40,195.50 C156.57,197.63 159.15,200.83 161.10,203.00 C163.05,205.17 164.02,206.38 166.10,208.50 C168.18,210.62 170.60,212.82 173.60,215.70 C176.60,218.58 181.45,222.98 184.10,225.80 C186.75,228.62 187.75,230.53 189.50,232.60 C191.25,234.67 192.68,235.87 194.60,238.20 C196.52,240.53 199.25,244.40 201.00,246.60 C202.75,248.80 203.38,249.25 205.10,251.40 C206.82,253.55 209.33,257.10 211.30,259.50 C213.27,261.90 215.02,263.82 216.90,265.80 C218.78,267.78 220.38,269.30 222.60,271.40 C224.82,273.50 227.98,276.30 230.20,278.40 C232.42,280.50 234.18,281.98 235.90,284.00 C237.62,286.02 238.83,288.28 240.50,290.50 C242.17,292.72 243.95,295.22 245.90,297.30 C247.85,299.38 250.02,301.22 252.20,303.00 C254.38,304.78 256.68,306.42 259.00,308.00 C261.32,309.58 263.77,311.12 266.10,312.50 C268.43,313.88 270.35,314.90 273.00,316.30 C275.65,317.70 279.18,319.50 282.00,320.90 C284.82,322.30 287.25,323.75 289.90,324.70 C292.55,325.65 295.22,326.38 297.90,326.60 C300.58,326.82 303.15,326.60 306.00,326.00 C308.85,325.40 312.42,324.13 315.00,323.00 C317.58,321.87 319.33,320.97 321.50,319.20 C323.67,317.43 326.00,314.93 328.00,312.40 C330.00,309.87 331.83,306.15 333.50,304.00 C335.17,301.85 336.68,301.43 338.00,299.50 C339.32,297.57 339.77,294.80 341.40,292.40 C343.03,290.00 345.52,288.12 347.80,285.10 C350.08,282.08 352.58,277.93 355.10,274.30 C357.62,270.67 360.83,266.28 362.90,263.30 C364.97,260.32 365.78,258.43 367.50,256.40 C369.22,254.37 370.88,253.03 373.20,251.10 C375.52,249.17 379.08,246.77 381.40,244.80 C383.72,242.83 384.37,242.35 387.10,239.30 C389.83,236.25 394.55,229.48 397.80,226.50 C401.05,223.52 404.18,223.18 406.60,221.40 C409.02,219.62 410.20,217.58 412.30,215.80 C414.40,214.02 417.13,212.35 419.20,210.70 C421.27,209.05 422.55,207.68 424.70,205.90 C426.85,204.12 429.77,201.88 432.10,200.00 C434.43,198.12 436.38,196.32 438.70,194.60 C441.02,192.88 443.68,191.25 446.00,189.70 C448.32,188.15 450.02,186.90 452.60,185.30 C455.18,183.70 458.80,181.82 461.50,180.10 C464.20,178.38 466.75,176.58 468.80,175.00 C470.85,173.42 471.98,172.20 473.80,170.60 C475.62,169.00 477.37,167.12 479.70,165.40 C482.03,163.68 485.47,162.13 487.80,160.30 C490.13,158.47 491.73,156.32 493.70,154.40 C495.67,152.48 497.52,150.63 499.60,148.80 C501.68,146.97 503.63,145.23 506.20,143.40 C508.77,141.57 512.22,139.42 515.00,137.80 C517.78,136.18 520.27,134.83 522.90,133.70 C525.53,132.57 528.18,131.93 530.80,131.00 C533.42,130.07 535.63,129.02 538.60,128.10 C541.57,127.18 546.68,125.97 548.60,125.50 C550.52,125.03 549.85,125.33 550.10,125.30" fill="none" stroke="#000" stroke-width="2.7" stroke-linecap="round" stroke-dasharray="8.56 8.91 0 8.16 0 8.70" stroke-dashoffset="32.96"/>
<path d="M66.80,125.57 C67.30,125.90 68.80,126.85 69.80,127.53 C70.80,128.21 71.80,128.93 72.80,129.66 C73.80,130.39 74.80,131.15 75.81,131.93 C76.81,132.71 77.81,133.51 78.81,134.32 C79.81,135.13 80.81,135.97 81.81,136.81 C82.81,137.65 83.81,138.50 84.81,139.36 C85.81,140.22 86.81,141.10 87.81,141.97 C88.81,142.84 89.81,143.72 90.81,144.59 C91.82,145.47 92.82,146.35 93.82,147.22 C94.82,148.09 95.82,148.96 96.82,149.82 C97.82,150.68 98.82,151.53 99.82,152.37 C100.82,153.22 101.82,154.05 102.82,154.89 C103.82,155.72 104.82,156.55 105.82,157.38 C106.82,158.21 107.83,159.04 108.83,159.87 C109.83,160.71 110.83,161.54 111.83,162.38 C112.83,163.22 113.83,164.06 114.83,164.92 C115.83,165.77 116.83,166.63 117.83,167.50 C118.83,168.38 119.83,169.26 120.83,170.16 C121.83,171.06 122.83,171.97 123.84,172.90 C124.84,173.83 125.84,174.78 126.84,175.74 C127.84,176.71 128.84,177.69 129.84,178.68 C130.84,179.67 131.84,180.68 132.84,181.71 C133.84,182.73 134.84,183.77 135.84,184.82 C136.84,185.87 137.84,186.94 138.84,188.01 C139.85,189.09 140.85,190.18 141.85,191.28 C142.85,192.38 143.85,193.49 144.85,194.61 C145.85,195.74 146.85,196.87 147.85,198.01 C148.85,199.16 149.85,200.31 150.85,201.47 C151.85,202.63 152.85,203.80 153.85,204.98 C154.85,206.16 155.86,207.35 156.86,208.54 C157.86,209.73 158.86,210.93 159.86,212.14 C160.86,213.34 161.86,214.56 162.86,215.78 C163.86,216.99 164.86,218.22 165.86,219.44 C166.86,220.67 167.86,221.90 168.86,223.14 C169.86,224.37 170.86,225.61 171.87,226.85 C172.87,228.09 173.87,229.33 174.87,230.58 C175.87,231.83 176.87,233.08 177.87,234.34 C178.87,235.59 179.87,236.85 180.87,238.12 C181.87,239.39 182.87,240.66 183.87,241.94 C184.87,243.22 185.87,244.50 186.87,245.80 C187.88,247.09 188.88,248.40 189.88,249.71 C190.88,251.02 191.88,252.34 192.88,253.67 C193.88,255.00 194.88,256.34 195.88,257.70 C196.88,259.05 197.88,260.41 198.88,261.79 C199.88,263.16 200.88,264.55 201.88,265.95 C202.88,267.35 203.89,268.76 204.89,270.19 C205.89,271.62 206.89,273.06 207.89,274.52 C208.89,275.98 209.89,277.45 210.89,278.94 C211.89,280.43 212.89,281.94 213.89,283.46 C214.89,284.98 215.89,286.52 216.89,288.07 C217.89,289.61 218.89,291.17 219.90,292.74 C220.90,294.30 221.90,295.88 222.90,297.46 C223.90,299.04 224.90,300.63 225.90,302.22 C226.90,303.81 227.90,305.40 228.90,306.99 C229.90,308.58 230.90,310.17 231.90,311.76 C232.90,313.35 233.90,314.93 234.90,316.51 C235.90,318.09 236.91,319.66 237.91,321.22 C238.91,322.78 239.91,324.34 240.91,325.88 C241.91,327.42 242.91,328.95 243.91,330.47 C244.91,331.98 245.91,333.49 246.91,334.97 C247.91,336.45 248.91,337.92 249.91,339.36 C250.91,340.80 251.91,342.22 252.92,343.61 C253.92,345.00 254.92,346.36 255.92,347.69 C256.92,349.01 257.92,350.31 258.92,351.56 C259.92,352.81 260.92,354.02 261.92,355.19 C262.92,356.35 263.92,357.47 264.92,358.54 C265.92,359.60 266.92,360.62 267.92,361.58 C268.93,362.53 269.93,363.44 270.93,364.27 C271.93,365.10 272.93,365.88 273.93,366.58 C274.93,367.28 275.93,367.92 276.93,368.49 C277.93,369.05 278.93,369.55 279.93,369.97 C280.93,370.40 281.93,370.75 282.93,371.03 C283.93,371.31 284.94,371.51 285.94,371.64 C286.94,371.77 287.94,371.83 288.94,371.82 C289.94,371.81 290.94,371.72 291.94,371.58 C292.94,371.43 293.94,371.22 294.94,370.96 C295.94,370.69 296.94,370.36 297.94,369.97 C298.94,369.59 299.94,369.15 300.95,368.66 C301.95,368.18 302.95,367.64 303.95,367.05 C304.95,366.46 305.95,365.83 306.95,365.15 C307.95,364.47 308.95,363.74 309.95,362.97 C310.95,362.20 311.95,361.39 312.95,360.54 C313.95,359.70 314.95,358.80 315.95,357.88 C316.96,356.95 317.96,355.99 318.96,355.00 C319.96,354.00 320.96,352.97 321.96,351.91 C322.96,350.85 323.96,349.76 324.96,348.64 C325.96,347.52 326.96,346.37 327.96,345.20 C328.96,344.03 329.96,342.83 330.96,341.61 C331.96,340.39 332.97,339.14 333.97,337.88 C334.97,336.62 335.97,335.33 336.97,334.04 C337.97,332.74 338.97,331.42 339.97,330.09 C340.97,328.77 341.97,327.42 342.97,326.07 C343.97,324.72 344.97,323.35 345.97,321.98 C346.97,320.61 347.97,319.22 348.98,317.84 C349.98,316.45 350.98,315.06 351.98,313.67 C352.98,312.27 353.98,310.87 354.98,309.48 C355.98,308.08 356.98,306.69 357.98,305.29 C358.98,303.90 359.98,302.51 360.98,301.13 C361.98,299.75 362.98,298.37 363.98,297.00 C364.99,295.63 365.99,294.27 366.99,292.93 C367.99,291.58 368.99,290.24 369.99,288.91 C370.99,287.57 371.99,286.25 372.99,284.94 C373.99,283.63 374.99,282.33 375.99,281.03 C376.99,279.74 377.99,278.46 378.99,277.18 C379.99,275.91 381.00,274.64 382.00,273.39 C383.00,272.13 384.00,270.89 385.00,269.65 C386.00,268.41 387.00,267.18 388.00,265.97 C389.00,264.75 390.00,263.54 391.00,262.34 C392.00,261.14 393.00,259.95 394.00,258.77 C395.00,257.59 396.00,256.42 397.00,255.26 C398.01,254.10 399.01,252.95 400.01,251.81 C401.01,250.66 402.01,249.53 403.01,248.41 C404.01,247.28 405.01,246.17 406.01,245.07 C407.01,243.96 408.01,242.87 409.01,241.78 C410.01,240.70 411.01,239.62 412.01,238.55 C413.01,237.49 414.02,236.43 415.02,235.38 C416.02,234.34 417.02,233.30 418.02,232.27 C419.02,231.24 420.02,230.23 421.02,229.22 C422.02,228.21 423.02,227.21 424.02,226.22 C425.02,225.23 426.02,224.25 427.02,223.28 C428.02,222.31 429.02,221.35 430.03,220.39 C431.03,219.44 432.03,218.50 433.03,217.56 C434.03,216.63 435.03,215.70 436.03,214.79 C437.03,213.87 438.03,212.96 439.03,212.06 C440.03,211.16 441.03,210.27 442.03,209.38 C443.03,208.50 444.03,207.62 445.03,206.75 C446.04,205.88 447.04,205.02 448.04,204.17 C449.04,203.31 450.04,202.46 451.04,201.62 C452.04,200.78 453.04,199.95 454.04,199.12 C455.04,198.30 456.04,197.48 457.04,196.66 C458.04,195.85 459.04,195.04 460.04,194.24 C461.04,193.44 462.05,192.64 463.05,191.85 C464.05,191.06 465.05,190.28 466.05,189.50 C467.05,188.72 468.05,187.95 469.05,187.18 C470.05,186.42 471.05,185.65 472.05,184.90 C473.05,184.14 474.05,183.38 475.05,182.64 C476.05,181.89 477.05,181.14 478.06,180.40 C479.06,179.66 480.06,178.93 481.06,178.20 C482.06,177.47 483.06,176.74 484.06,176.02 C485.06,175.29 486.06,174.57 487.06,173.85 C488.06,173.14 489.06,172.42 490.06,171.71 C491.06,171.00 492.06,170.30 493.06,169.59 C494.07,168.89 495.07,168.18 496.07,167.48 C497.07,166.79 498.07,166.09 499.07,165.40 C500.07,164.70 501.07,164.01 502.07,163.33 C503.07,162.64 504.07,161.96 505.07,161.28 C506.07,160.60 507.07,159.93 508.07,159.26 C509.07,158.59 510.08,157.93 511.08,157.27 C512.08,156.61 513.08,155.96 514.08,155.31 C515.08,154.66 516.08,154.02 517.08,153.38 C518.08,152.74 519.08,152.11 520.08,151.49 C521.08,150.87 522.08,150.25 523.08,149.64 C524.08,149.03 525.08,148.43 526.09,147.83 C527.09,147.24 528.09,146.65 529.09,146.07 C530.09,145.49 531.09,144.92 532.09,144.35 C533.09,143.79 534.09,143.23 535.09,142.69 C536.09,142.14 537.09,141.61 538.09,141.08 C539.09,140.55 540.09,140.03 541.09,139.52 C542.10,139.01 543.10,138.52 544.10,138.03 C545.10,137.54 546.10,137.06 547.10,136.59 C548.10,136.13 549.60,135.45 550.10,135.23" fill="none" stroke="#000" stroke-width="2.6" stroke-linecap="round"/>
</g>
<path d="M123.50,165.30 L130.00,173.30 L123.50,181.30 L117.00,173.30 Z" fill="#000"/>
<path d="M486.20,167.00 L492.70,175.00 L486.20,183.00 L479.70,175.00 Z" fill="#000"/>
<circle cx="293.7" cy="372.3" r="7.95" fill="#000"/>
<circle cx="402.5" cy="272.8" r="7.8" fill="#f80a0a"/>
<circle cx="317.7" cy="269.2" r="8.2" fill="#0c0cf0"/>
<text x="132.5" y="169.7" font-size="18.8" fill="#111">MX1 = 896 MHz</text>
<text x="332.6" y="168.0" font-size="18.8" fill="#111">MX2 <tspan font-weight="bold">=</tspan> 933 MHz</text>
<text x="225.9" y="396.3" font-size="18.8" fill="#111">m1 = -19 dB20</text>
<text x="413.3" y="292.0" font-size="18.5" fill="#c8141e">m2 = 22 <tspan font-family="Liberation Serif" font-size="19.5">Ω</tspan></text>
<text x="239.5" y="251.8" font-size="18.5" fill="#1a1ac8">m3 = 195 <tspan font-family="Liberation Serif" font-size="19.5">Ω</tspan></text>
<g stroke="#000" stroke-width="1.8" fill="none">
<path d="M66.8,62.5 V415.1 H550.1"/>
<path d="M62.8,415.10 H66.8"/>
<path d="M58.8,393.07 H66.8"/>
<path d="M62.8,371.03 H66.8"/>
<path d="M58.8,349.00 H66.8"/>
<path d="M62.8,326.96 H66.8"/>
<path d="M58.8,304.93 H66.8"/>
<path d="M62.8,282.89 H66.8"/>
<path d="M58.8,260.86 H66.8"/>
<path d="M62.8,238.82 H66.8"/>
<path d="M58.8,216.79 H66.8"/>
<path d="M62.8,194.76 H66.8"/>
<path d="M58.8,172.72 H66.8"/>
<path d="M62.8,150.69 H66.8"/>
<path d="M58.8,128.65 H66.8"/>
<path d="M62.8,106.62 H66.8"/>
<path d="M58.8,84.58 H66.8"/>
<path d="M62.8,62.55 H66.8"/>
<path d="M66.80,415.1 V422.6"/>
<path d="M90.97,415.1 V419.1"/>
<path d="M115.13,415.1 V422.6"/>
<path d="M139.30,415.1 V419.1"/>
<path d="M163.46,415.1 V422.6"/>
<path d="M187.62,415.1 V419.1"/>
<path d="M211.79,415.1 V422.6"/>
<path d="M235.95,415.1 V419.1"/>
<path d="M260.12,415.1 V422.6"/>
<path d="M284.29,415.1 V419.1"/>
<path d="M308.45,415.1 V422.6"/>
<path d="M332.62,415.1 V419.1"/>
<path d="M356.78,415.1 V422.6"/>
<path d="M380.94,415.1 V419.1"/>
<path d="M405.11,415.1 V422.6"/>
<path d="M429.28,415.1 V419.1"/>
<path d="M453.44,415.1 V422.6"/>
<path d="M477.61,415.1 V419.1"/>
<path d="M501.77,415.1 V422.6"/>
<path d="M525.93,415.1 V419.1"/>
<path d="M550.10,415.1 V422.6"/>
</g>
<text x="56.3" y="400.1" font-size="20.4" text-anchor="end" fill="#111">-20</text>
<text x="56.3" y="356.0" font-size="20.4" text-anchor="end" fill="#111">-18</text>
<text x="56.3" y="311.9" font-size="20.4" text-anchor="end" fill="#111">-16</text>
<text x="56.3" y="267.9" font-size="20.4" text-anchor="end" fill="#111">-14</text>
<text x="56.3" y="223.8" font-size="20.4" text-anchor="end" fill="#111">-12</text>
<text x="56.3" y="179.7" font-size="20.4" text-anchor="end" fill="#111">-10</text>
<text x="56.3" y="135.7" font-size="20.4" text-anchor="end" fill="#111">-8</text>
<text x="56.3" y="91.6" font-size="20.4" text-anchor="end" fill="#111">-6</text>
<text x="67.30" y="442.6" font-size="20" text-anchor="middle" fill="#111">890</text>
<text x="115.63" y="442.6" font-size="20" text-anchor="middle" fill="#111">895</text>
<text x="163.96" y="442.6" font-size="20" text-anchor="middle" fill="#111">900</text>
<text x="212.29" y="442.6" font-size="20" text-anchor="middle" fill="#111">905</text>
<text x="260.62" y="442.6" font-size="20" text-anchor="middle" fill="#111">910</text>
<text x="308.95" y="442.6" font-size="20" text-anchor="middle" fill="#111">915</text>
<text x="357.28" y="442.6" font-size="20" text-anchor="middle" fill="#111">920</text>
<text x="405.61" y="442.6" font-size="20" text-anchor="middle" fill="#111">925</text>
<text x="453.94" y="442.6" font-size="20" text-anchor="middle" fill="#111">930</text>
<text x="502.27" y="442.6" font-size="20" text-anchor="middle" fill="#111">935</text>
<text x="550.60" y="442.6" font-size="20" text-anchor="middle" fill="#111">940</text>
<text x="237.3" y="465.9" font-size="20.4" fill="#111">Frequency (MHz)</text>
<text transform="translate(20.1,393) rotate(-90)" font-size="20.4" fill="#111">Reflection coefficient S11 (dB20)</text>
<path d="M550.1,62.5 V415.1" stroke="#9c2a40" stroke-width="1.8" fill="none"/>
<g stroke="#d2142a" stroke-width="1.7" fill="none">
<path d="M550.6,409.22 H554.6"/>
<path d="M550.6,391.60 H557.6"/>
<path d="M550.6,373.97 H554.6"/>
<path d="M550.6,356.34 H557.6"/>
<path d="M550.6,338.71 H554.6"/>
<path d="M550.6,321.09 H557.6"/>
<path d="M550.6,303.46 H554.6"/>
<path d="M550.6,285.83 H557.6"/>
<path d="M550.6,268.20 H554.6"/>
<path d="M550.6,250.58 H557.6"/>
<path d="M550.6,232.95 H554.6"/>
<path d="M550.6,215.32 H557.6"/>
<path d="M550.6,197.69 H554.6"/>
<path d="M550.6,180.07 H557.6"/>
<path d="M550.6,162.44 H554.6"/>
<path d="M550.6,144.81 H557.6"/>
<path d="M550.6,127.18 H554.6"/>
<path d="M550.6,109.56 H557.6"/>
<path d="M550.6,91.93 H554.6"/>
<path d="M550.6,74.30 H557.6"/>
</g>
<text x="562.4" y="397.7" font-size="19.8" fill="#c8141e">12</text>
<text x="562.4" y="362.4" font-size="19.8" fill="#c8141e">15</text>
<text x="562.4" y="327.2" font-size="19.8" fill="#c8141e">18</text>
<text x="562.4" y="291.9" font-size="19.8" fill="#c8141e">21</text>
<text x="562.4" y="256.7" font-size="19.8" fill="#c8141e">24</text>
<text x="562.4" y="221.4" font-size="19.8" fill="#c8141e">27</text>
<text x="562.4" y="186.2" font-size="19.8" fill="#c8141e">30</text>
<text x="562.4" y="150.9" font-size="19.8" fill="#c8141e">33</text>
<text x="562.4" y="115.7" font-size="19.8" fill="#c8141e">36</text>
<text x="562.4" y="80.4" font-size="19.8" fill="#c8141e">39</text>
<text transform="translate(602.6,336.5) rotate(-90)" font-size="20" fill="#c8141e">Resistance R(Z) (ohm)</text>
<g stroke="#1010c8" stroke-width="2" fill="none">
<path d="M613.2,64.8 V417.2"/>
<path d="M613.2,417.20 H620.7"/>
<path d="M613.2,398.67 H617.2"/>
<path d="M613.2,380.14 H620.7"/>
<path d="M613.2,361.62 H617.2"/>
<path d="M613.2,343.09 H620.7"/>
<path d="M613.2,324.56 H617.2"/>
<path d="M613.2,306.03 H620.7"/>
<path d="M613.2,287.51 H617.2"/>
<path d="M613.2,268.98 H620.7"/>
<path d="M613.2,250.45 H617.2"/>
<path d="M613.2,231.92 H620.7"/>
<path d="M613.2,213.39 H617.2"/>
<path d="M613.2,194.87 H620.7"/>
<path d="M613.2,176.34 H617.2"/>
<path d="M613.2,157.81 H620.7"/>
<path d="M613.2,139.28 H617.2"/>
<path d="M613.2,120.76 H620.7"/>
<path d="M613.2,102.23 H617.2"/>
<path d="M613.2,83.70 H620.7"/>
<path d="M613.2,65.17 H617.2"/>
</g>
<text x="624.6" y="423.2" font-size="20.4" fill="#1a1ac8">175</text>
<text x="624.6" y="386.1" font-size="20.4" fill="#1a1ac8">180</text>
<text x="624.6" y="349.1" font-size="20.4" fill="#1a1ac8">185</text>
<text x="624.6" y="312.0" font-size="20.4" fill="#1a1ac8">190</text>
<text x="624.6" y="275.0" font-size="20.4" fill="#1a1ac8">195</text>
<text x="624.6" y="237.9" font-size="20.4" fill="#1a1ac8">200</text>
<text x="624.6" y="200.9" font-size="20.4" fill="#1a1ac8">205</text>
<text x="624.6" y="163.8" font-size="20.4" fill="#1a1ac8">210</text>
<text x="624.6" y="126.8" font-size="20.4" fill="#1a1ac8">215</text>
<text x="624.6" y="89.7" font-size="20.4" fill="#1a1ac8">220</text>
<text transform="translate(682,336.8) rotate(-90)" font-size="20" fill="#1a1ac8">Reactance X(Z) (ohm)</text>
</svg></body></html>
